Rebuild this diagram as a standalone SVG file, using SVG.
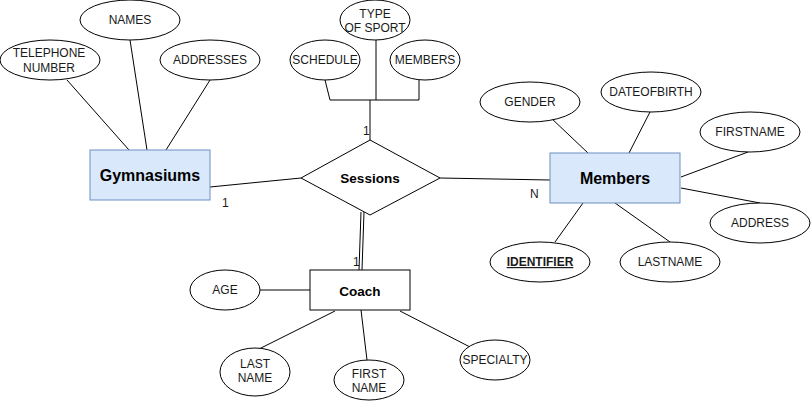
<svg xmlns="http://www.w3.org/2000/svg" width="811" height="401" viewBox="0 0 811 401">
<style>
.attr{fill:#fff;stroke:#000;stroke-width:1}
.ent{fill:#dae8fc;stroke:#6c8ebf;stroke-width:1}
.ent2{fill:#fff;stroke:#000;stroke-width:1}
.t{font-family:"Liberation Sans",Arial,sans-serif;font-size:12px;fill:#1a1a1a;text-anchor:middle}
.b{font-family:"Liberation Sans",Arial,sans-serif;font-weight:bold;fill:#000;text-anchor:middle}
.lbl{font-family:"Liberation Sans",Arial,sans-serif;font-size:12px;fill:#1a1a1a}
.c{stroke:#000;stroke-width:1;fill:none}
</style>
<rect width="811" height="401" fill="#fff"/>
<g id="connectors">
<line class="c" x1="67" y1="80" x2="129" y2="150"/>
<line class="c" x1="130" y1="40" x2="147" y2="150"/>
<line class="c" x1="210" y1="80" x2="166" y2="150"/>
<line class="c" x1="210" y1="187" x2="301" y2="178"/>
<polyline class="c" points="325,80 330,100 419,100 419,80"/>
<line class="c" x1="376" y1="40" x2="376" y2="100"/>
<line class="c" x1="370" y1="100" x2="370" y2="140"/>
<line class="c" x1="440" y1="178" x2="550" y2="180"/>
<line class="c" x1="550" y1="117" x2="588" y2="153"/>
<line class="c" x1="650" y1="112" x2="629" y2="153"/>
<line class="c" x1="748" y1="152" x2="681" y2="177"/>
<line class="c" x1="681" y1="188" x2="760" y2="203"/>
<line class="c" x1="583" y1="203" x2="555" y2="242"/>
<line class="c" x1="615" y1="203" x2="670" y2="242"/>
<line x1="362.5" y1="212" x2="360.5" y2="270" stroke="#000" stroke-width="4"/>
<line x1="362.5" y1="212" x2="360.5" y2="270" stroke="#fff" stroke-width="2"/>
<line class="c" x1="260" y1="290" x2="310" y2="290"/>
<line class="c" x1="335" y1="311" x2="257" y2="350"/>
<line class="c" x1="361" y1="310" x2="367" y2="360"/>
<line class="c" x1="400" y1="311" x2="470" y2="347"/>
<text class="lbl" x="222" y="207">1</text>
<text class="lbl" x="363" y="135">1</text>
<text class="lbl" x="530" y="198">N</text>
<text class="lbl" x="353" y="266">1</text>
</g>
<g id="telephone"><ellipse class="attr" cx="50" cy="60" rx="50" ry="20"/><text class="t" x="49" y="57">TELEPHONE</text><text class="t" x="49" y="72">NUMBER</text></g>
<g id="names"><ellipse class="attr" cx="130" cy="20" rx="50" ry="20"/><text class="t" x="130" y="24">NAMES</text></g>
<g id="addresses"><ellipse class="attr" cx="210" cy="60" rx="50" ry="20"/><text class="t" x="210" y="64">ADDRESSES</text></g>
<g id="gymnasiums"><rect class="ent" x="90" y="150" width="120" height="50"/><text class="b" x="150" y="181" font-size="16">Gymnasiums</text></g>
<g id="typeofsport"><ellipse class="attr" cx="375" cy="20" rx="35" ry="20"/><text class="t" x="375" y="18">TYPE</text><text class="t" x="375" y="32">OF SPORT</text></g>
<g id="schedule"><ellipse class="attr" cx="325" cy="60" rx="35" ry="20"/><text class="t" x="325" y="64">SCHEDULE</text></g>
<g id="members-attr"><ellipse class="attr" cx="425" cy="60" rx="35" ry="20"/><text class="t" x="425" y="64">MEMBERS</text></g>
<g id="sessions"><polygon class="ent2" points="370,140 440,178 370,215 301,178"/><text class="b" x="370" y="183" font-size="13.5">Sessions</text></g>
<g id="members"><rect class="ent" x="550" y="153" width="130" height="50"/><text class="b" x="615" y="184" font-size="16">Members</text></g>
<g id="gender"><ellipse class="attr" cx="530" cy="102" rx="50" ry="20"/><text class="t" x="530" y="106">GENDER</text></g>
<g id="dateofbirth"><ellipse class="attr" cx="651" cy="92" rx="50" ry="20"/><text class="t" x="651" y="96">DATEOFBIRTH</text></g>
<g id="firstname"><ellipse class="attr" cx="750" cy="132" rx="50" ry="20"/><text class="t" x="750" y="136">FIRSTNAME</text></g>
<g id="address"><ellipse class="attr" cx="760" cy="223" rx="50" ry="20"/><text class="t" x="760" y="227">ADDRESS</text></g>
<g id="identifier"><ellipse class="attr" cx="540" cy="262" rx="50" ry="20"/><text class="t" x="540" y="266" font-weight="bold" text-decoration="underline">IDENTIFIER</text></g>
<g id="lastname"><ellipse class="attr" cx="670" cy="262" rx="50" ry="20"/><text class="t" x="670" y="266">LASTNAME</text></g>
<g id="coach"><rect class="ent2" x="310" y="270" width="100" height="40"/><text class="b" x="360" y="296" font-size="13.5">Coach</text></g>
<g id="age"><ellipse class="attr" cx="225" cy="290" rx="35" ry="20"/><text class="t" x="225" y="294">AGE</text></g>
<g id="lastname-coach"><ellipse class="attr" cx="255" cy="372" rx="35" ry="24"/><text class="t" x="255" y="368">LAST</text><text class="t" x="255" y="382">NAME</text></g>
<g id="firstname-coach"><ellipse class="attr" cx="369" cy="380" rx="35" ry="20"/><text class="t" x="369" y="378">FIRST</text><text class="t" x="369" y="392">NAME</text></g>
<g id="specialty"><ellipse class="attr" cx="495" cy="360" rx="35" ry="20"/><text class="t" x="495" y="364">SPECIALTY</text></g>
</svg>
